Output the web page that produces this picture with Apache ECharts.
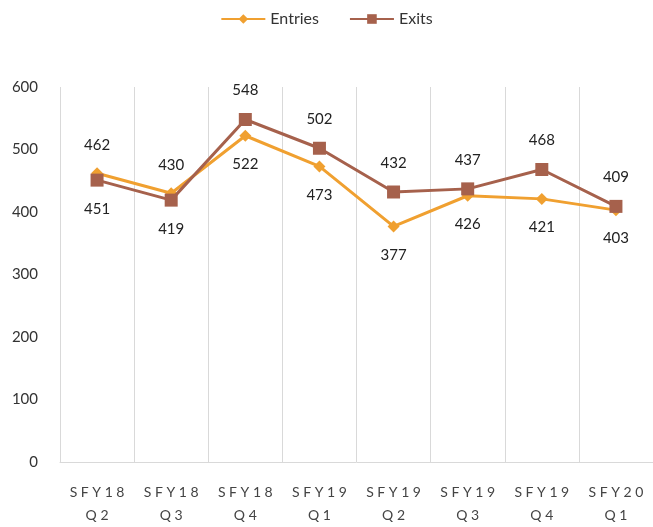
<!DOCTYPE html>
<html>
<head>
<meta charset="utf-8">
<script src="https://cdn.jsdelivr.net/npm/echarts@6/dist/echarts.min.js"></script>
<style>
  html, body { margin: 0; padding: 0; background: #fff; }
  #main { width: 653px; height: 527px; }
</style>
</head>
<body>
<div id="main"></div>
<script>
const categories = ['SFY18 Q2', 'SFY18 Q3', 'SFY18 Q4', 'SFY19 Q1', 'SFY19 Q2', 'SFY19 Q3', 'SFY19 Q4', 'SFY20 Q1'];
const entries = [462, 430, 522, 473, 377, 426, 421, 403];
const exits = [451, 419, 548, 502, 432, 437, 468, 409];
// which side the value label sits on (Excel-style)
const entriesLabelPos = ['top', 'top', 'bottom', 'bottom', 'bottom', 'bottom', 'bottom', 'bottom'];
const exitsLabelPos = ['bottom', 'bottom', 'top', 'top', 'top', 'top', 'top', 'top'];

const font = 'Lato, "Open Sans", sans-serif';

function withLabels(values, positions) {
  return values.map((v, i) => ({
    value: v,
    label: { position: positions[i] }
  }));
}

// spread out the letters like the original axis labels
function spaced(s) {
  return s.split(' ').map(part => part.split('').join(' ')).join('\n');
}

const chart = echarts.init(document.getElementById('main'));
chart.setOption({
  animation: false,
  textStyle: { fontFamily: font },
  legend: {
    top: 6,
    left: 'center',
    itemWidth: 44,
    itemHeight: 12,
    itemGap: 30,
    textStyle: { fontSize: 16, color: '#333', fontFamily: font },
    data: ['Entries', 'Exits']
  },
  grid: { left: 60, right: -2, top: 87, bottom: 57 },
  xAxis: {
    type: 'category',
    data: categories,
    axisLine: { lineStyle: { color: '#d9d9d9', width: 1 } },
    axisTick: { show: false },
    splitLine: { show: true, lineStyle: { color: '#d9d9d9', width: 1 } },
    axisLabel: {
      interval: 0,
      margin: 19,
      fontSize: 14,
      lineHeight: 23,
      color: '#444',
      fontFamily: font,
      formatter: spaced
    }
  },
  yAxis: {
    type: 'value',
    min: 0,
    max: 600,
    interval: 100,
    axisLine: { show: false },
    axisTick: { show: false },
    splitLine: { show: false },
    axisLabel: { fontSize: 15, color: '#333', margin: 22, fontFamily: font }
  },
  series: [
    {
      name: 'Entries',
      type: 'line',
      data: withLabels(entries, entriesLabelPos),
      symbol: 'diamond',
      symbolSize: 12,
      itemStyle: { color: '#f0a030' },
      lineStyle: { color: '#f0a030', width: 3 },
      label: { show: true, distance: 15, fontSize: 15, color: '#222', fontFamily: font },
      z: 2
    },
    {
      name: 'Exits',
      type: 'line',
      data: withLabels(exits, exitsLabelPos),
      symbol: 'rect',
      symbolSize: 13,
      itemStyle: { color: '#a6614c' },
      lineStyle: { color: '#a6614c', width: 3 },
      label: { show: true, distance: 15, fontSize: 15, color: '#222', fontFamily: font },
      z: 3
    }
  ]
});
</script>
</body>
</html>
